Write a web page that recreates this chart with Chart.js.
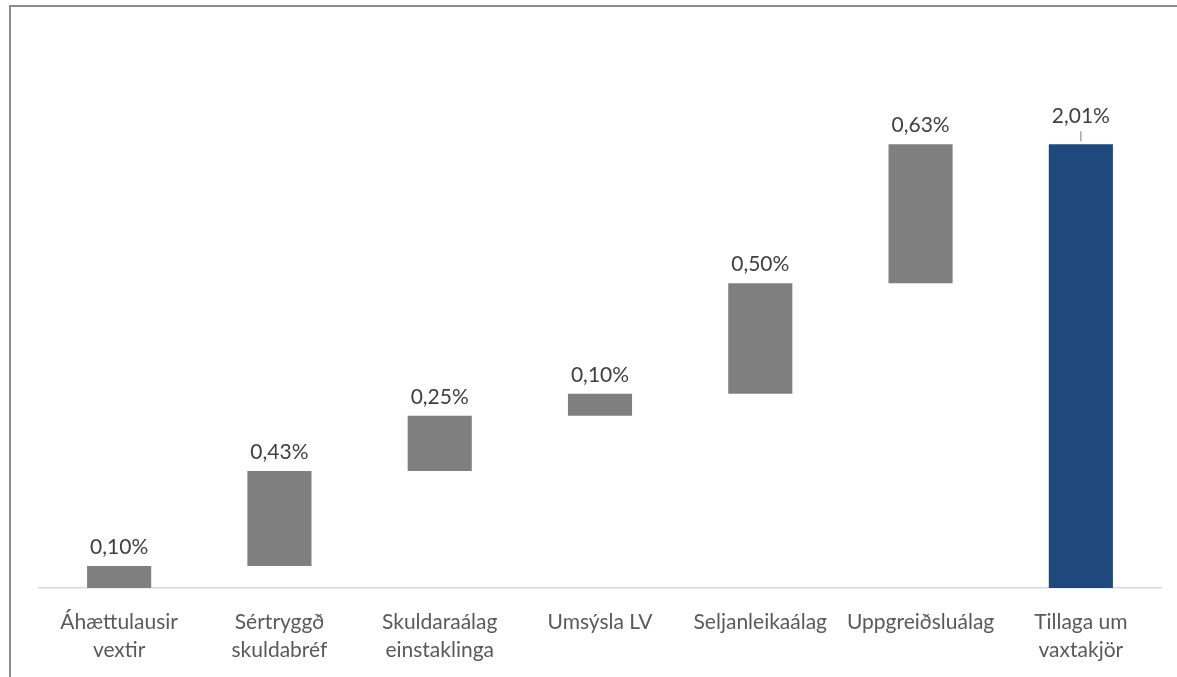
<!DOCTYPE html>
<html><head><meta charset="utf-8">
<script src="https://cdn.jsdelivr.net/npm/chart.js@4"></script>
<style>html,body{margin:0;padding:0;background:#fff}#wrap{width:1177px;height:677px;position:relative}</style>
</head><body><div id="wrap"><canvas id="c" width="1177" height="677"></canvas></div>
<script>
const categories = [["Áhættulausir","vextir"],["Sértryggð","skuldabréf"],["Skuldaraálag","einstaklinga"],["Umsýsla LV"],["Seljanleikaálag"],["Uppgreiðsluálag"],["Tillaga um","vaxtakjör"]];
const steps = [0.10, 0.43, 0.25, 0.10, 0.50, 0.63];
const totalValue = 2.01;
const valueLabels = ["0,10%","0,43%","0,25%","0,10%","0,50%","0,63%","2,01%"];

const ranges = [];
let cum = 0;
steps.forEach(v => { ranges.push([cum, cum + v]); cum += v; });
ranges.push([0, totalValue]);
const colors = ranges.map((r, i) => i === ranges.length - 1 ? '#1f497d' : '#7f7f7f');
const FONT = 'Lato, "Open Sans", sans-serif';

const labelPlugin = {
  id: 'labels',
  afterDatasetsDraw(chart) {
    const ctx = chart.ctx;
    const meta = chart.getDatasetMeta(0);
    ctx.save();
    ctx.font = '21px ' + FONT;
    ctx.fillStyle = '#404040';
    ctx.textAlign = 'center';
    ctx.textBaseline = 'alphabetic';
    meta.data.forEach((bar, i) => {
      const top = Math.min(bar.y, bar.base);
      const isTotal = i === meta.data.length - 1;
      if (isTotal) {
        ctx.strokeStyle = '#a6a6a6';
        ctx.lineWidth = 1.5;
        ctx.beginPath();
        ctx.moveTo(bar.x, top - 3);
        ctx.lineTo(bar.x, top - 13);
        ctx.stroke();
        ctx.fillText(valueLabels[i], bar.x, top - 21);
      } else {
        ctx.fillText(valueLabels[i], bar.x, top - 12);
      }
    });
    ctx.restore();
  },
  beforeDraw(chart) {
    const ctx = chart.ctx;
    ctx.save();
    ctx.strokeStyle = '#8c8c8c';
    ctx.lineWidth = 2;
    ctx.beginPath();
    ctx.moveTo(10, 677);
    ctx.lineTo(10, 6);
    ctx.lineTo(1177, 6);
    ctx.stroke();
    ctx.restore();
  }
};

new Chart(document.getElementById('c'), {
  type: 'bar',
  data: {
    labels: categories,
    datasets: [{ data: ranges, backgroundColor: colors, barPercentage: 0.4, categoryPercentage: 1.0 }]
  },
  options: {
    responsive: false,
    animation: false,
    layout: { padding: { left: 39, right: 16, top: 36, bottom: 0 } },
    plugins: { legend: { display: false }, tooltip: { enabled: false } },
    scales: {
      y: { display: false, min: 0, max: 2.5 },
      x: {
        afterFit(scale) { scale.height = 89; },
        grid: { display: false, drawTicks: false },
        border: { display: true, color: '#d9d9d9', width: 1.5 },
        ticks: { padding: 20, color: '#595959', font: { family: FONT, size: 21, lineHeight: 1.33 }, maxRotation: 0, autoSkip: false }
      }
    }
  },
  plugins: [labelPlugin]
});
</script></body></html>
